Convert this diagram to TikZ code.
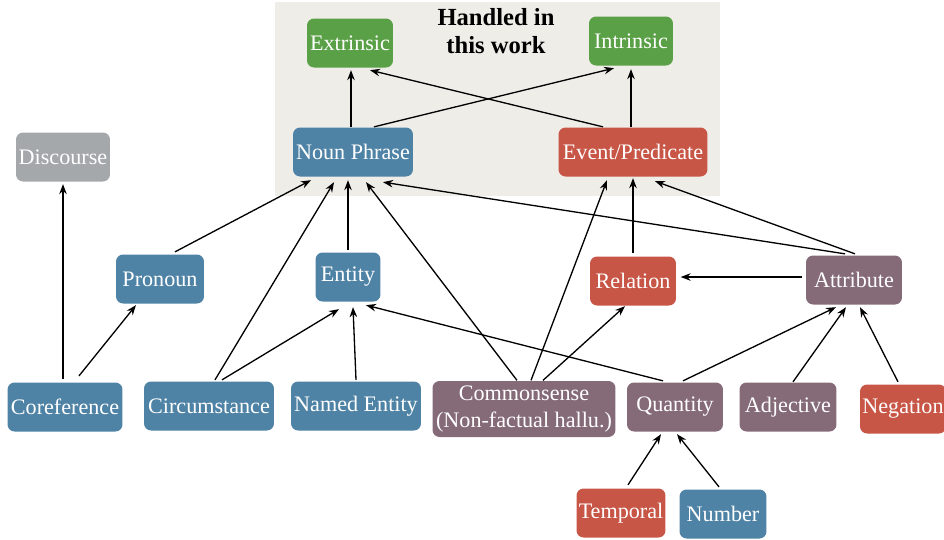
\documentclass[tikz,border=0pt]{standalone}
\usepackage{fontspec}
\setmainfont{Liberation Serif}
\usetikzlibrary{arrows.meta,calc}
\definecolor{hwgreen}{HTML}{5AA046}
\definecolor{hwblue}{HTML}{4F83A6}
\definecolor{hwred}{HTML}{C85646}
\definecolor{hwmauve}{HTML}{856B78}
\definecolor{hwgray}{HTML}{A4A8AB}
\definecolor{hwbg}{HTML}{EEEDE8}

\begin{document}
\begin{tikzpicture}[x=0.02cm, y=-0.02cm, line width=0.75pt, >={Stealth[length=2mm, width=1.5mm]},
  box/.style={rounded corners=4pt, text=white, minimum height=0.98cm, inner sep=0pt,
    font=\fontsize{12.6}{15}\selectfont}]
  \useasboundingbox (0,0) rectangle (944,539);
  % shaded area
  \fill[hwbg] (275,2) rectangle (720,196);
  \node[font=\bfseries\fontsize{14}{16}\selectfont, align=center] (title) at (496,31) {Handled in\\this work};
  % top layer
  \node[box, fill=hwgreen, minimum width=1.72cm] (extr) at (350,43) {Extrinsic};
  \node[box, fill=hwgreen, minimum width=1.68cm] (intr) at (631,41) {Intrinsic};
  \node[box, fill=hwblue, minimum width=2.4cm] (np) at (353,152) {Noun Phrase};
  \node[box, fill=hwred, minimum width=2.98cm] (ep) at (633,152) {Event/Predicate};
  \node[box, fill=hwgray, minimum width=1.88cm] (disc) at (63,157) {Discourse};
  % middle layer
  \node[box, fill=hwblue, minimum width=1.76cm] (pron) at (160,279) {Pronoun};
  \node[box, fill=hwblue, minimum width=1.3cm] (ent) at (348,277) {Entity};
  \node[box, fill=hwred, minimum width=1.72cm] (rel) at (633,281) {Relation};
  \node[box, fill=hwmauve, minimum width=1.92cm] (attr) at (854,280) {Attribute};
  % bottom layer
  \node[box, fill=hwblue, minimum width=2.3cm] (coref) at (65,407) {Coreference};
  \node[box, fill=hwblue, minimum width=2.6cm] (circ) at (209,406) {Circumstance};
  \node[box, fill=hwblue, minimum width=2.6cm] (named) at (356,406) {Named Entity};
  \node[box, fill=hwmauve, minimum width=3.66cm, minimum height=1.12cm, align=center] (comm) at (524,409)
    {Commonsense\\(Non-factual hallu.)};
  \node[box, fill=hwmauve, minimum width=1.92cm] (quant) at (675,407) {Quantity};
  \node[box, fill=hwmauve, minimum width=1.94cm] (adj) at (788,407) {Adjective};
  \node[box, fill=hwred, minimum width=1.72cm] (neg) at (903,409) {Negation};
  \node[box, fill=hwred, minimum width=1.78cm] (temp) at (621,513) {Temporal};
  \node[box, fill=hwblue, minimum width=1.74cm] (num) at (723,514) {Number};
  % arrows
  \draw[->] ($(np.north)+(-2,0)$) -- ($(extr.south)+(1,2)$);
  \draw[->] ($(np.north)+(21,0)$) -- ($(intr.south)+(-17,2)$);
  \draw[->] ($(ep.north)+(-30,0)$) -- ($(extr.south)+(20,2)$);
  \draw[->] ($(ep.north)+(-2,0)$) -- ($(intr.south)+(0,3)$);
  \draw[->] ($(pron.north)+(15,-2)$) -- ($(np.south)+(-42,3)$);
  \draw[->] ($(circ.north)+(6,-1)$) -- ($(np.south)+(-19,5)$);
  \draw[->] ($(circ.north)+(13,-1)$) -- ($(ent.south)+(-9,7)$);
  \draw[->] ($(ent.north)+(0,-2)$) -- ($(np.south)+(-5,3)$);
  \draw[->] ($(comm.north)+(-7,0)$) -- ($(np.south)+(13,5)$);
  \draw[->] ($(attr.north)+(-9,-1)$) -- ($(np.south)+(30,5)$);
  \draw[->] ($(comm.north)+(7,0)$) -- ($(ep.south)+(-26,3)$);
  \draw[->] ($(rel.north)+(0,-3)$) -- ($(ep.south)+(0,1)$);
  \draw[->] ($(attr.north)+(1,-1)$) -- ($(ep.south)+(22,4)$);
  \draw[->] ($(attr.west)+(-3,-3)$) -- ($(rel.east)+(4,-4)$);
  \draw[->] ($(comm.north)+(19,0)$) -- ($(rel.south)+(-8,0)$);
  \draw[->] ($(quant.north)+(-12,-1)$) -- ($(ent.south)+(18,3)$);
  \draw[->] ($(quant.north)+(8,-1)$) -- ($(attr.south)+(-18,2)$);
  \draw[->] ($(adj.north)+(5,0)$) -- ($(attr.south)+(-8,2)$);
  \draw[->] ($(neg.north)+(-5,-2)$) -- ($(attr.south)+(6,2)$);
  \draw[->] ($(named.north)+(0,-1)$) -- ($(ent.south)+(5,5)$);
  \draw[->] ($(coref.north)+(-2,-3)$) -- ($(disc.south)+(0,2)$);
  \draw[->] ($(coref.north)+(14,-6)$) -- ($(pron.south)+(-24,1)$);
  \draw[->] ($(temp.north)+(7,-3)$) -- ($(quant.south)+(-14,2)$);
  \draw[->] ($(num.north)+(-4,-2)$) -- ($(quant.south)+(2,2)$);
\end{tikzpicture}
\end{document}
